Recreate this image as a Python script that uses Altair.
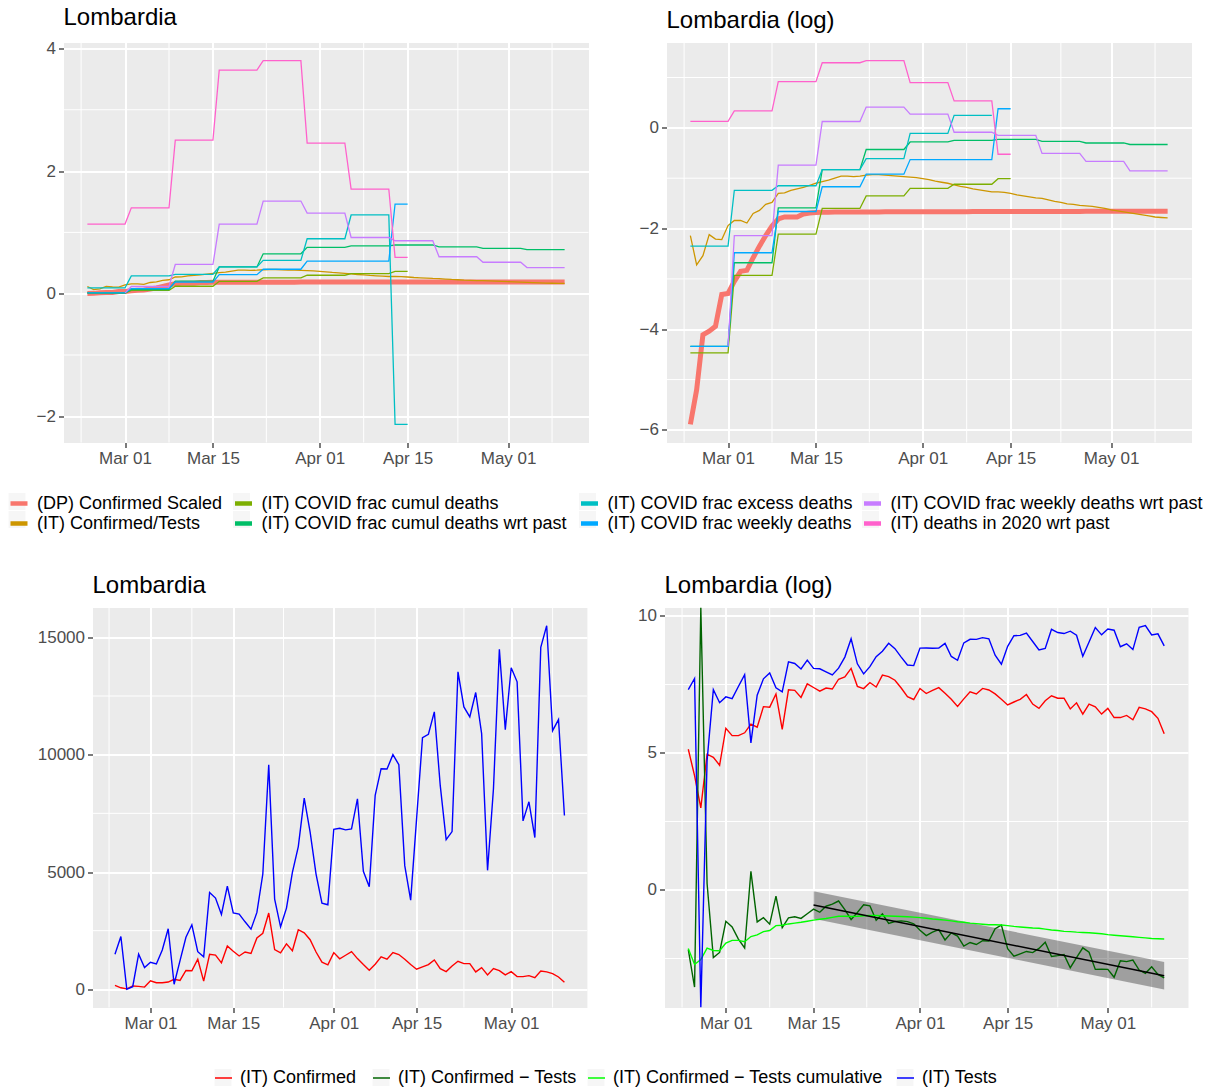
import altair as alt
import pandas as pd

FONT = "Liberation Sans"
PANEL_BG = "#EBEBEB"
KEY_BG = "#F2F2F2"

# ---------------------------------------------------------------- data
dates = pd.date_range("2020-02-24", periods=77, freq="D").strftime("%Y-%m-%d").tolist()

top_series = [
    "(DP) Confirmed Scaled",
    "(IT) Confirmed/Tests",
    "(IT) COVID frac cumul deaths",
    "(IT) COVID frac cumul deaths wrt past",
    "(IT) COVID frac excess deaths",
    "(IT) COVID frac weekly deaths",
    "(IT) COVID frac weekly deaths wrt past",
    "(IT) deaths in 2020 wrt past",
]
top_colors = ["#F8766D", "#CD9600", "#7CAE00", "#00BE67", "#00BFC4", "#00A9FF", "#C77CFF", "#FF61CC"]

dp_confirmed_scaled = [
    0.00277, 0.0055, 0.0164, 0.0176, 0.0194, 0.0365, 0.0373, 0.0474, 0.0578, 0.0590,
    0.0758, 0.0954, 0.1177, 0.1420, 0.1637, 0.1703, 0.1703, 0.1703, 0.1810, 0.1845,
    0.1864,
    0.1872, 0.1875, 0.1877, 0.1879, 0.1880, 0.1881, 0.1882, 0.1883, 0.1884, 0.1885,
    0.1886, 0.1887, 0.1888, 0.1889, 0.1890, 0.1890, 0.1891, 0.1891, 0.1892, 0.1892,
    0.1893, 0.1893, 0.1894, 0.1894, 0.1895, 0.1895, 0.1896, 0.1896, 0.1897, 0.1897,
    0.1898, 0.1898, 0.1899, 0.1899, 0.1900, 0.1900, 0.1901, 0.1901, 0.1902, 0.1902,
    0.1903, 0.1903, 0.1904, 0.1904, 0.1905, 0.1905, 0.1906, 0.1906, 0.1907, 0.1907,
    0.1908, 0.1908, 0.1909, 0.1909, 0.1910, 0.1910,
]
it_confirmed_tests = [
    0.1177, 0.0659, 0.0789, 0.1200, 0.1097, 0.1086, 0.1437, 0.1588, 0.1588, 0.1511,
    0.1827, 0.1940, 0.2187, 0.2276, 0.2725, 0.2753, 0.2894, 0.2982, 0.3073, 0.3198,
    0.3329, 0.3430, 0.3535, 0.3679, 0.3829, 0.3829, 0.3791, 0.3829, 0.3906, 0.3946,
    0.3946, 0.3906, 0.3867, 0.3829, 0.3791, 0.3753, 0.3716, 0.3642, 0.3570, 0.3465,
    0.3396, 0.3329, 0.3230, 0.3135, 0.3073, 0.2982, 0.2923, 0.2865, 0.2808, 0.2808,
    0.2780, 0.2725, 0.2645, 0.2592, 0.2541, 0.2491, 0.2466, 0.2393, 0.2322, 0.2276,
    0.2209, 0.2187, 0.2144, 0.2122, 0.2101, 0.2060, 0.2019, 0.1959, 0.1920, 0.1882,
    0.1845, 0.1809, 0.1773, 0.1738, 0.1703, 0.1686, 0.1670,
]
frac_cumul_deaths = [
    0.01145, 0.01145, 0.01145, 0.01145, 0.01145, 0.01145, 0.01145,
    0.0534, 0.0534, 0.0534, 0.0534, 0.0534, 0.0534, 0.0534,
    0.1212, 0.1212, 0.1212, 0.1212, 0.1212, 0.1212, 0.1212,
    0.2019, 0.2019, 0.2019, 0.2019, 0.2019, 0.2019, 0.2019,
    0.2592, 0.2592, 0.2592, 0.2592, 0.2592, 0.2592, 0.2592,
    0.3012, 0.3012, 0.3012, 0.3012, 0.3012, 0.3012, 0.3012,
    0.3263, 0.3263, 0.3263, 0.3263, 0.3263, 0.3263, 0.3263,
    0.3642, 0.3642, 0.3642,
]
frac_cumul_deaths_past = [
    0.01304, 0.01304, 0.01304, 0.01304, 0.01304, 0.01304, 0.01304,
    0.0686, 0.0686, 0.0686, 0.0686, 0.0686, 0.0686, 0.0686,
    0.2039, 0.2039, 0.2039, 0.2039, 0.2039, 0.2039, 0.2039,
    0.4360, 0.4360, 0.4360, 0.4360, 0.4360, 0.4360, 0.4360,
    0.6505, 0.6505, 0.6505, 0.6505, 0.6505, 0.6505, 0.6505,
    0.7558, 0.7558, 0.7558, 0.7558, 0.7558, 0.7558, 0.7558,
    0.7788, 0.7788, 0.7788, 0.7788, 0.7788, 0.7788, 0.7788,
    0.7945, 0.7945, 0.7945, 0.7945, 0.7945, 0.7945, 0.7945,
    0.7634, 0.7634, 0.7634, 0.7634, 0.7634, 0.7634, 0.7634,
    0.7408, 0.7408, 0.7408, 0.7408, 0.7408, 0.7408, 0.7408,
    0.7189, 0.7189, 0.7189, 0.7189, 0.7189, 0.7189, 0.7189,
]
frac_excess_deaths = [
    0.0954, 0.0954, 0.0954, 0.0954, 0.0954, 0.0954, 0.0954,
    0.2894, 0.2894, 0.2894, 0.2894, 0.2894, 0.2894, 0.2894,
    0.3166, 0.3166, 0.3166, 0.3166, 0.3166, 0.3166, 0.3166,
    0.4360, 0.4360, 0.4360, 0.4360, 0.4360, 0.4360, 0.4360,
    0.5434, 0.5434, 0.5434, 0.5434, 0.5434, 0.5434, 0.5434,
    0.8958, 0.8958, 0.8958, 0.8958, 0.8958, 0.8958, 0.8958,
    1.284, 1.284, 1.284, 1.284, 1.284, 1.284, 1.284,
    -2.13, -2.13, -2.13,
]
frac_weekly_deaths = [
    0.01304, 0.01304, 0.01304, 0.01304, 0.01304, 0.01304, 0.01304,
    0.0837, 0.0837, 0.0837, 0.0837, 0.0837, 0.0837, 0.0837,
    0.190, 0.190, 0.190, 0.190, 0.190, 0.190, 0.190,
    0.3104, 0.3104, 0.3104, 0.3104, 0.3104, 0.3104, 0.3104,
    0.3985, 0.3985, 0.3985, 0.3985, 0.3985, 0.3985, 0.3985,
    0.5326, 0.5326, 0.5326, 0.5326, 0.5326, 0.5326, 0.5326,
    0.5326, 0.5326, 0.5326, 0.5326, 0.5326, 0.5326, 0.5326,
    1.462, 1.462, 1.462,
]
# starts on day 6 (Mar 01)
frac_weekly_deaths_past = [
    0.01304,
    0.1177, 0.1177, 0.1177, 0.1177, 0.1177, 0.1177, 0.1177,
    0.4771, 0.4771, 0.4771, 0.4771, 0.4771, 0.4771, 0.4771,
    1.135, 1.135, 1.135, 1.135, 1.135, 1.135, 1.135,
    1.511, 1.511, 1.511, 1.511, 1.511, 1.511, 1.511,
    1.314, 1.314, 1.314, 1.314, 1.314, 1.314, 1.314,
    0.9167, 0.9167, 0.9167, 0.9167, 0.9167, 0.9167, 0.9167,
    0.8633, 0.8633, 0.8633, 0.8633, 0.8633, 0.8633, 0.8633,
    0.6023, 0.6023, 0.6023, 0.6023, 0.6023, 0.6023, 0.6023,
    0.5132, 0.5132, 0.5132, 0.5132, 0.5132, 0.5132, 0.5132,
    0.4261, 0.4261, 0.4261, 0.4261, 0.4261, 0.4261, 0.4261,
]
deaths_2020_past = [
    1.136, 1.136, 1.136, 1.136, 1.136, 1.136, 1.136,
    1.40, 1.40, 1.40, 1.40, 1.40, 1.40, 1.40,
    2.505, 2.505, 2.505, 2.505, 2.505, 2.505, 2.505,
    3.647, 3.647, 3.647, 3.647, 3.647, 3.647, 3.647,
    3.80, 3.80, 3.80, 3.80, 3.80, 3.80, 3.80,
    2.457, 2.457, 2.457, 2.457, 2.457, 2.457, 2.457,
    1.707, 1.707, 1.707, 1.707, 1.707, 1.707, 1.707,
    0.592, 0.592, 0.592,
]
top_values = [dp_confirmed_scaled, it_confirmed_tests, frac_cumul_deaths, frac_cumul_deaths_past,
              frac_excess_deaths, frac_weekly_deaths, frac_weekly_deaths_past, deaths_2020_past]
top_first_day = [0, 0, 0, 0, 0, 0, 6, 0]

confirmed = [
    170, 65, 20, 142, 127, 95, 366, 280, 280, 310,
    425, 380, 805, 790, 1280, 350, 1490, 1460, 1130, 1850,
    1620, 1420, 1590, 1530, 2190, 2390, 3250, 1690, 1555, 1940,
    1645, 2540, 2410, 2115, 1590, 1155, 1045, 1565, 1300, 1453,
    1610, 1310, 1054, 812, 1068, 1382, 1282, 1567, 1481, 1282,
    1054, 855, 954, 1054, 1254, 883, 755, 997, 1197, 1097,
    1097, 741, 926, 613, 883, 798, 613, 755, 541, 541,
    584, 499, 783, 741, 670, 527, 299,
]
tests = [
    1496, 2251, 0, 112, 1500, 930, 1150, 1080, 1680, 2580,
    215, 1220, 2220, 2750, 1605, 1385, 4130, 3890, 3190, 4400,
    3260, 3205, 2877, 2564, 3276, 4914, 9573, 3846, 2664, 3461,
    4986, 6083, 8148, 6695, 4914, 3675, 3604, 6823, 6866, 6795,
    6838, 8120, 5028, 4373, 8262, 9402, 9387, 10000, 9573, 5271,
    3803, 7265, 10726, 10869, 11823, 8689, 6382, 6724, 13533, 12037,
    11610, 12650, 10897, 5071, 8547, 14487, 11068, 13704, 13105, 7179,
    7991, 6467, 14572, 15498, 11025, 11496, 7407,
]
bot_series = ["(IT) Confirmed", "(IT) Confirmed \u2212 Tests",
              "(IT) Confirmed \u2212 Tests cumulative", "(IT) Tests"]
bot_colors = ["#FF0000", "#006400", "#00FF00", "#0000FF"]

reg_dates = ["2020-03-15", "2020-05-10"]
reg_fit = [-0.55, -3.13]
reg_low = [-1.05, -3.63]
reg_high = [-0.05, -2.63]

x_tick_days = [(3, 1), (3, 15), (4, 1), (4, 15), (5, 1)]
x_minor_dates = ["2020-02-23", "2020-03-08", "2020-03-23T12:00:00Z", "2020-04-08",
                 "2020-04-23", "2020-05-08"]

for vals, first in zip(top_values, top_first_day):
    assert first + len(vals) <= 77
assert len(confirmed) == 77 and len(tests) == 77 and len(it_confirmed_tests) == 77

# ---------------------------------------------------------------- tables
rows = []
for name, vals, first in zip(top_series, top_values, top_first_day):
    for i, v in enumerate(vals):
        rows.append({"date": dates[first + i], "series": name, "value": v})
top_df = pd.DataFrame(rows)
bot_df = pd.DataFrame({"date": dates, "confirmed": confirmed, "tests": tests,
                       "cum_ratio": it_confirmed_tests})
reg_df = pd.DataFrame({"date": reg_dates, "fit": reg_fit, "lo": reg_low, "hi": reg_high})
minor_x_df = pd.DataFrame({"date": x_minor_dates})

# ---------------------------------------------------------------- helpers
X_DOMAIN = [alt.DateTime(year=2020, month=2, date=20, hours=4, minutes=48, utc=True),
            alt.DateTime(year=2020, month=5, date=13, hours=19, minutes=12, utc=True)]
X_TICKS = [alt.DateTime(year=2020, month=m, date=d, utc=True) for m, d in x_tick_days]
BLANK_VIEW = alt.ViewBackground(fill="white", stroke="transparent")


def x_enc():
    return alt.X("date:T",
                 scale=alt.Scale(type="utc", domain=X_DOMAIN, nice=False),
                 axis=alt.Axis(values=X_TICKS, format="%b %d", title=None,
                               labelFlush=False, labelOverlap=False))


def y_scale(lo, hi, clamp=False):
    if clamp:
        return alt.Scale(domain=[lo, hi], nice=False, zero=False, clamp=True)
    return alt.Scale(domain=[lo, hi], nice=False, zero=False)


def y_axis(values, extent, fmt=None):
    if fmt:
        return alt.Axis(values=values, title=None, minExtent=extent, format=fmt,
                        labelOverlap=False)
    return alt.Axis(values=values, title=None, minExtent=extent, labelOverlap=False)


def minor_layers(yfield_vals, ysc, yax):
    vx = alt.Chart(minor_x_df).mark_rule(color="white", strokeWidth=1).encode(x=x_enc())
    vy = alt.Chart(pd.DataFrame({"v": yfield_vals})).mark_rule(
        color="white", strokeWidth=1).encode(y=alt.Y("v:Q", scale=ysc, axis=yax))
    return [vx, vy]


def spacer():
    return alt.Chart(pd.DataFrame({"s": [0]})).mark_point(
        opacity=0, size=0, strokeWidth=0).encode(
        x=alt.value(0), y=alt.value(0)).properties(width=1, height=1, view=BLANK_VIEW)


top_color = alt.Scale(domain=top_series, range=top_colors)
bot_color = alt.Scale(domain=bot_series, range=bot_colors)

# ---------------------------------------------------------------- top-left
tl_ys = y_scale(-2.4265, 4.0965)
tl_ya = y_axis([-2, 0, 2, 4], 54.5)
tl_base = alt.Chart(top_df)
tl_thick = tl_base.transform_filter(alt.datum.series == top_series[0]).mark_line(
    strokeWidth=5, clip=True).encode(
    x=x_enc(), y=alt.Y("value:Q", scale=tl_ys, axis=tl_ya),
    color=alt.Color("series:N", scale=top_color, legend=None))
tl_thin = tl_base.transform_filter(alt.datum.series != top_series[0]).mark_line(
    strokeWidth=1.3, clip=True).encode(
    x=x_enc(), y=alt.Y("value:Q", scale=tl_ys, axis=tl_ya),
    color=alt.Color("series:N", scale=top_color, legend=None))
tl = alt.layer(*minor_layers([-1, 1, 3], tl_ys, tl_ya), tl_thick, tl_thin).properties(
    width=525, height=400, title="Lombardia")

# ---------------------------------------------------------------- top-right (log)
tr_ys = y_scale(-6.25, 1.696)
tr_ya = y_axis([-6, -4, -2, 0], 76.2)
tr_base = alt.Chart(top_df).transform_filter("datum.value > 0").transform_calculate(
    lv="log(datum.value)")
tr_thick = tr_base.transform_filter(alt.datum.series == top_series[0]).mark_line(
    strokeWidth=5, clip=True).encode(
    x=x_enc(), y=alt.Y("lv:Q", scale=tr_ys, axis=tr_ya),
    color=alt.Color("series:N", scale=top_color, legend=None))
tr_thin = tr_base.transform_filter(alt.datum.series != top_series[0]).mark_line(
    strokeWidth=1.3, clip=True).encode(
    x=x_enc(), y=alt.Y("lv:Q", scale=tr_ys, axis=tr_ya),
    color=alt.Color("series:N", scale=top_color, legend=None))
tr = alt.layer(*minor_layers([-5, -3, -1, 1], tr_ys, tr_ya), tr_thick, tr_thin).properties(
    width=525, height=400, title="Lombardia (log)")

# ---------------------------------------------------------------- bottom-left
bl_ys = y_scale(-774.9, 16272.9)
bl_ya = y_axis([0, 5000, 10000, 15000], 83, fmt="d")
bl_lines = alt.Chart(bot_df).transform_calculate(
    **{bot_series[0]: "datum.confirmed", bot_series[3]: "datum.tests"}
).transform_fold([bot_series[0], bot_series[3]], as_=["series", "value"]).mark_line(
    strokeWidth=1.4, clip=True).encode(
    x=x_enc(), y=alt.Y("value:Q", scale=bl_ys, axis=bl_ya),
    color=alt.Color("series:N", scale=bot_color, legend=None))
bl = alt.layer(*minor_layers([2500, 7500, 12500], bl_ys, bl_ya), bl_lines).properties(
    width=494.4, height=400, title="Lombardia")

# ---------------------------------------------------------------- bottom-right (log)
br_ys = y_scale(-4.29, 10.31, clamp=True)
br_ya = y_axis([0, 5, 10], 75.1)
br_ribbon = alt.Chart(reg_df).mark_area(color="black", opacity=0.32, clip=True).encode(
    x=x_enc(), y=alt.Y("lo:Q", scale=br_ys, axis=br_ya), y2="hi:Q")
br_lines = alt.Chart(bot_df).transform_calculate(
    **{bot_series[0]: "log(datum.confirmed)",
       bot_series[1]: "log(datum.confirmed) - log(datum.tests)",
       bot_series[2]: "log(datum.cum_ratio)",
       bot_series[3]: "log(datum.tests)"}
).transform_fold(bot_series, as_=["series", "raw"]).transform_calculate(
    lv="clamp(datum.raw, -50, 50)").mark_line(strokeWidth=1.4, clip=True).encode(
    x=x_enc(), y=alt.Y("lv:Q", scale=br_ys, axis=br_ya),
    color=alt.Color("series:N", scale=bot_color, legend=None))
br_fit = alt.Chart(reg_df).mark_line(color="black", strokeWidth=1.5, clip=True).encode(
    x=x_enc(), y=alt.Y("fit:Q", scale=br_ys, axis=br_ya))
br = alt.layer(*minor_layers([-2.5, 2.5, 7.5], br_ys, br_ya), br_ribbon, br_lines,
               br_fit).properties(width=523.5, height=400, title="Lombardia (log)")


# ---------------------------------------------------------------- legends
def legend_block(col_names, col_colors, col_x, ly, height, stroke_w):
    layers = []
    for names, colors, lx in zip(col_names, col_colors, col_x):
        common = dict(orient="none", legendX=lx, legendY=ly, symbolSize=289,
                      labelFontSize=18, labelFont=FONT, labelColor="black",
                      labelOffset=7, rowPadding=0, padding=0, title=None,
                      labelLimit=600)
        boxes = alt.Chart(pd.DataFrame({"series": pd.Series([], dtype=str)})).mark_square(
            filled=True).encode(
            color=alt.Color("series:N",
                            scale=alt.Scale(domain=names, range=[KEY_BG] * len(names)),
                            legend=alt.Legend(symbolType="square", labelExpr="''",
                                              symbolStrokeWidth=0, **common)))
        lines = alt.Chart(pd.DataFrame({"series": names})).mark_line(
            strokeWidth=stroke_w).encode(
            color=alt.Color("series:N", scale=alt.Scale(domain=names, range=colors),
                            legend=alt.Legend(symbolType="stroke",
                                              symbolStrokeWidth=stroke_w, **common)))
        layers += [boxes, lines]
    return alt.layer(*layers).resolve_scale(color="independent").properties(
        width=1180, height=height, view=BLANK_VIEW)


top_leg = legend_block(
    [top_series[0:2], top_series[2:4], top_series[4:6], top_series[6:8]],
    [top_colors[0:2], top_colors[2:4], top_colors[4:6], top_colors[6:8]],
    [1.5, 226, 572, 855], 24, 103, 4.5)
bot_leg = legend_block(
    [[s] for s in bot_series], [[c] for c in bot_colors],
    [207.5, 365.5, 580.5, 889.5], 35, 50, 1.5)

# ---------------------------------------------------------------- assemble
res = dict(x="independent", y="independent", color="independent")
top_row = alt.hconcat(spacer(), tl, tr, spacing=0).resolve_scale(**res)
bot_row = alt.hconcat(spacer(), bl, br, spacing=0).resolve_scale(**res)

chart = alt.vconcat(top_row, top_leg, bot_row, bot_leg, spacing=0).resolve_scale(
    **res
).properties(
    padding={"left": 5.5, "top": 5.5, "right": 0, "bottom": 0}
).configure(
    font=FONT, background="white"
).configure_view(
    fill=PANEL_BG, stroke="transparent"
).configure_axis(
    labelFont=FONT, labelFontSize=17, labelColor="#4D4D4D", tickColor="#333333",
    tickSize=5, tickWidth=1.3, domain=False, gridColor="white", gridWidth=2,
    labelPadding=3
).configure_title(
    font=FONT, fontSize=24, fontWeight="normal", color="black", anchor="start",
    frame="group", baseline="alphabetic", offset=9
)

chart.save("out.html", embed_options={"renderer": "svg", "actions": False})
